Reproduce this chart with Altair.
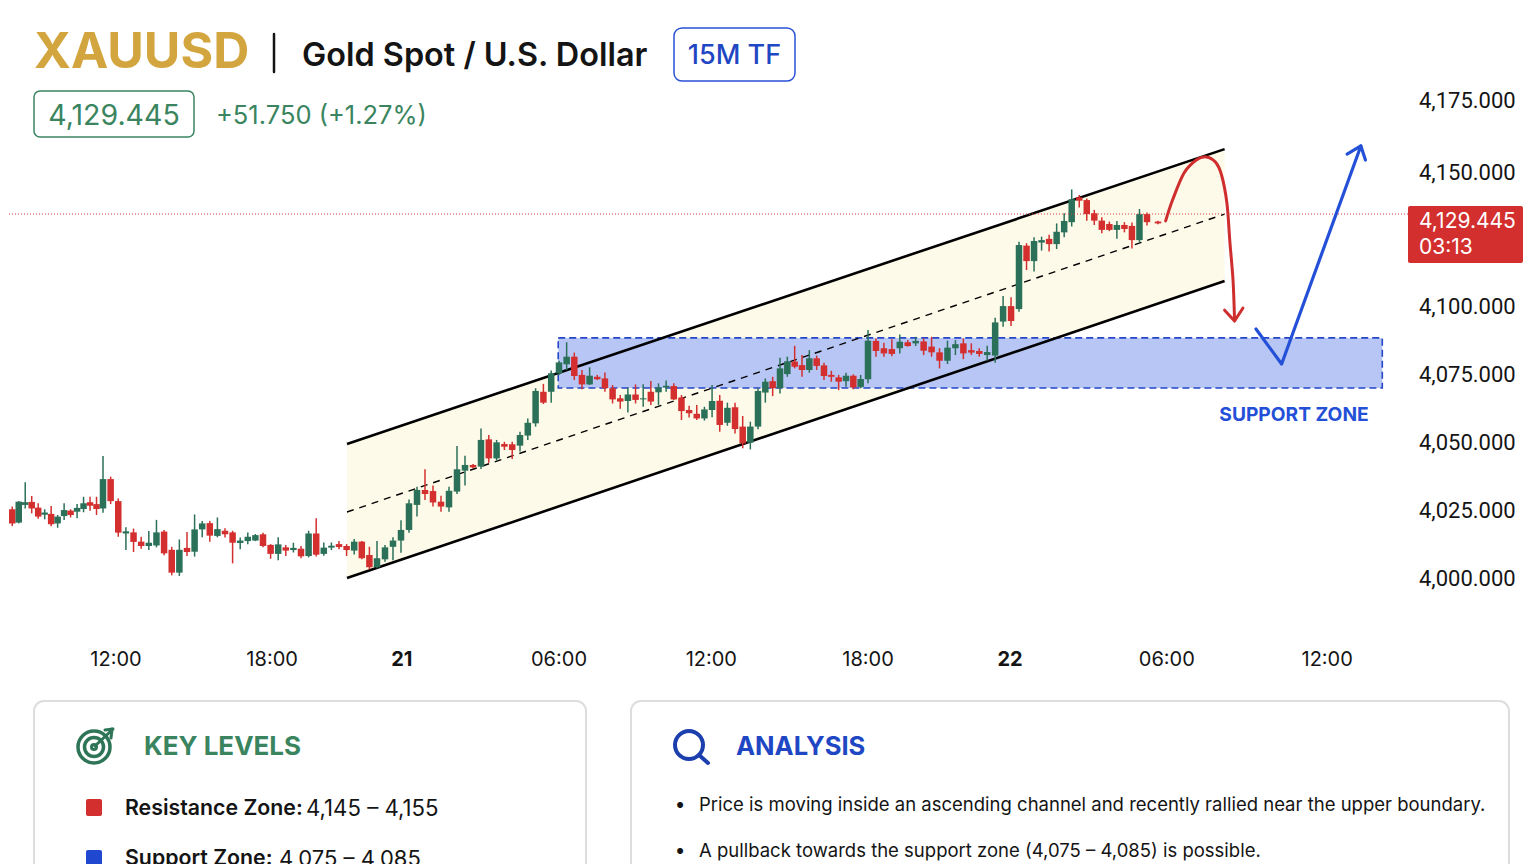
import altair as alt
import pandas as pd

FONT = "Inter"
GREEN = "#2B7058"
RED = "#D32F2F"
BLUE = "#2A52D6"
TXT_GREEN = "#3A8560"
GOLD = "#D3A53F"
INK = "#141414"

opens = [4024.9,4020.0,4026.5,4027.6,4025.5,4022.9,4023.2,4019.7,4022.4,4024.4,
 4024.0,4025.0,4027.5,4026.8,4025.2,4036.0,4027.9,4016.0,4016.4,4013.0,
 4011.4,4011.6,4016.7,4010.0,4001.6,4010.7,4009.3,4017.5,4019.8,4015.1,
 4017.0,4016.4,4012.5,4013.2,4013.4,4015.7,4011.8,4008.5,4010.9,4009.9,
 4010.4,4007.7,4016.0,4008.5,4010.8,4012.1,4011.4,4009.7,4013.0,4008.1,
 4003.6,4006.5,4011.1,4013.4,4017.3,4026.5,4032.0,4031.6,4027.7,4025.6,
 4031.4,4039.1,4041.2,4040.6,4050.6,4043.6,4048.9,4048.8,4048.3,4052.0,
 4056.5,4068.1,4068.1,4074.9,4078.2,4081.0,4074.3,4070.8,4073.6,4073.0,
 4069.4,4065.7,4064.7,4067.1,4065.3,4068.1,4067.9,4069.7,4070.2,4066.0,
 4061.4,4060.0,4058.3,4061.4,4064.8,4056.7,4062.4,4055.3,4049.4,4055.3,
 4067.8,4072.0,4069.4,4074.6,4079.2,4077.9,4076.1,4080.4,4077.8,4074.3,
 4073.4,4072.0,4074.0,4069.9,4072.7,4086.8,4084.1,4083.8,4084.1,4086.3,
 4085.9,4086.6,4084.7,4082.6,4079.5,4084.1,4085.9,4083.4,4083.1,4081.6,
 4081.4,4093.9,4099.6,4098.5,4119.2,4114.2,4120.2,4121.4,4119.7,4123.5,
 4126.8,4137.4,4136.1,4129.8,4127.3,4126.2,4124.3,4125.9,4125.6,4121.0,4129.4,4127.0]
highs = [4025.9,4027.9,4034.8,4029.8,4027.1,4024.9,4026.1,4022.8,4027.1,4024.9,
 4026.8,4029.5,4029.5,4029.5,4044.5,4036.9,4028.9,4018.3,4017.8,4014.8,
 4016.9,4021.0,4017.3,4011.1,4013.8,4016.5,4023.0,4020.6,4020.6,4021.9,
 4017.9,4017.0,4014.5,4016.4,4015.8,4016.3,4012.1,4014.6,4011.8,4012.6,
 4011.4,4017.0,4021.6,4012.7,4012.7,4013.2,4012.1,4014.0,4013.2,4011.1,
 4013.2,4011.8,4014.6,4020.9,4028.5,4033.2,4039.6,4033.6,4029.9,4033.2,
 4048.2,4044.6,4041.5,4054.6,4052.2,4050.4,4049.7,4049.7,4053.4,4058.3,
 4069.4,4071.0,4075.9,4079.5,4086.3,4082.5,4076.1,4077.1,4074.3,4075.2,
 4070.6,4066.9,4069.7,4070.8,4070.9,4072.1,4071.2,4072.2,4071.2,4066.9,
 4063.0,4063.2,4062.6,4070.6,4066.9,4064.1,4064.1,4059.2,4057.1,4069.4,
 4073.0,4073.6,4080.6,4081.0,4085.0,4081.6,4083.4,4081.4,4078.8,4075.8,
 4074.3,4075.1,4074.5,4074.3,4090.8,4087.7,4086.1,4087.4,4089.2,4087.1,
 4088.3,4087.7,4088.3,4084.1,4086.9,4087.1,4087.7,4085.9,4084.1,4085.0,
 4095.3,4102.9,4102.5,4120.5,4120.0,4121.9,4122.1,4122.7,4126.4,4129.8,
 4141.2,4138.5,4136.9,4131.4,4128.4,4127.0,4127.2,4126.8,4126.7,4131.8,4130.2,4127.3]
lows = [4018.7,4019.7,4025.2,4023.4,4021.4,4021.2,4018.7,4018.1,4021.0,4021.9,
 4021.6,4023.8,4024.4,4022.8,4023.6,4026.8,4014.8,4009.9,4009.2,4010.4,
 4009.9,4010.9,4008.0,4000.6,4000.4,4007.7,4007.5,4014.6,4013.0,4014.6,
 4014.5,4005.0,4010.2,4012.0,4013.2,4010.9,4006.7,4006.2,4007.7,4009.0,
 4006.9,4007.2,4007.5,4007.8,4009.9,4010.2,4007.7,4008.3,4006.5,4002.8,
 4003.2,4005.6,4006.2,4008.9,4016.3,4022.2,4028.3,4025.9,4024.0,4024.0,
 4030.5,4033.6,4039.9,4039.7,4042.0,4042.8,4046.7,4043.4,4046.1,4050.4,
 4055.3,4063.6,4064.1,4074.3,4076.1,4072.4,4069.0,4070.6,4072.4,4068.1,
 4063.8,4061.9,4060.5,4063.8,4062.6,4063.2,4063.2,4068.1,4065.1,4057.7,
 4058.6,4057.7,4057.5,4058.7,4053.4,4055.6,4052.8,4047.3,4046.9,4054.3,
 4064.1,4066.5,4067.5,4073.6,4076.7,4073.6,4075.1,4076.1,4072.4,4071.8,
 4068.7,4069.9,4069.0,4069.4,4071.2,4081.0,4081.0,4081.2,4082.2,4084.7,
 4084.9,4081.6,4081.0,4076.7,4078.3,4081.6,4080.1,4081.6,4081.0,4079.5,
 4078.8,4092.0,4092.3,4097.5,4111.3,4110.8,4117.6,4117.3,4118.1,4121.9,
 4125.4,4132.5,4127.3,4125.9,4123.2,4123.9,4121.4,4123.5,4118.3,4120.4,4125.7,4126.1]
closes = [4019.7,4027.7,4027.5,4025.2,4022.2,4023.7,4019.4,4022.2,4024.6,4022.8,
 4025.4,4027.1,4026.2,4025.0,4036.0,4027.9,4016.3,4016.8,4012.9,4011.4,
 4012.6,4016.4,4008.7,4001.6,4010.0,4009.2,4017.5,4019.7,4015.2,4017.6,
 4015.7,4012.6,4013.4,4014.8,4015.4,4011.4,4008.5,4012.0,4009.7,4010.7,
 4007.6,4016.0,4008.2,4010.8,4011.5,4011.0,4009.9,4013.0,4006.9,4003.6,
 4006.9,4010.9,4013.4,4017.3,4027.1,4032.0,4030.5,4027.4,4025.9,4031.7,
 4039.6,4041.2,4040.3,4050.4,4043.6,4049.5,4047.9,4046.7,4052.2,4056.7,
 4068.4,4064.1,4074.9,4078.9,4081.0,4073.9,4070.8,4074.0,4072.7,4069.4,
 4065.3,4064.5,4067.1,4065.1,4065.7,4064.5,4069.7,4070.3,4065.3,4061.0,
 4060.2,4058.3,4061.6,4064.7,4055.9,4062.2,4054.4,4049.1,4055.3,4068.4,
 4071.8,4069.4,4076.7,4079.3,4077.3,4076.1,4080.4,4077.6,4073.9,4073.6,
 4071.8,4074.0,4069.7,4072.8,4086.9,4083.1,4082.2,4082.0,4086.5,4084.9,
 4086.8,4083.2,4082.6,4079.5,4084.3,4085.6,4082.2,4082.5,4082.0,4082.7,
 4093.6,4099.6,4094.1,4119.4,4114.2,4120.7,4121.0,4119.7,4123.7,4127.2,
 4136.5,4135.8,4129.4,4127.3,4124.3,4124.3,4125.9,4124.6,4121.0,4129.4,4126.8,4126.4]

# x axis: bar number with the session labels it carries
tick_at = [15.7, 36.2, 73, 92.9, 114, 152.15, 173.1]
tick_text = ["12:00", "18:00", "06:00", "12:00", "18:00", "06:00", "12:00"]
day_at = [53.1, 131.87]
day_text = ["21", "22"]
price_ticks = [4000, 4025, 4050, 4075, 4100, 4150, 4175]
last_price = 4129.445

# overlays, in bar number and price
channel_x = [46.05, 159.7]
channel_upper = [4048.9, 4157.6]
channel_lower = [3999.6, 4107.8]
channel_mid = [4023.9, 4129.4]
zone_x = [72.9, 180.3]
zone_y = [4069.5, 4087.9]
red_x = [152.0, 152.9, 154.4, 156.0, 157.3, 158.5, 159.3, 160.0, 160.4, 160.8, 161.0]
red_y = [4127.2, 4136.1, 4149.0, 4153.8, 4154.9, 4153.1, 4148.1, 4134.7, 4120.1, 4108.1, 4094.5]
red_head_x = [159.7, 161.0, 162.1]
red_head_y = [4098.1, 4094.1, 4098.9]
blue_x = [163.8, 167.15, 177.5]
blue_y = [4091.2, 4078.3, 4158.7]
blue_head_x = [175.7, 177.5, 178.1]
blue_head_y = [4155.9, 4158.7, 4153.8]

xscale = alt.Scale(domain=[0, 14, 25, 50, 63, 73, 99, 114, 133, 150, 151, 183],
                   range=[0, 95, 179, 369, 473, 551, 750, 860, 1011, 1139, 1150, 1400])
yscale = alt.Scale(domain=[4000, 4025, 4050, 4075, 4100, last_price, 4150, 4175],
                   range=[569, 501, 433, 365, 297, 206, 163, 91])

X = alt.X("x:Q", scale=xscale, axis=None)
Y = alt.Y("y:Q", scale=yscale, axis=None)

df = pd.DataFrame({"i": range(len(opens)), "open": opens, "high": highs, "low": lows, "close": closes})
updown = alt.condition("datum.close >= datum.open", alt.value(GREEN), alt.value(RED))

wicks = alt.Chart(df).mark_rule(strokeWidth=1.5).encode(
    x=alt.X("i:Q", scale=xscale, axis=None),
    y=alt.Y("low:Q", scale=yscale, axis=None),
    y2="high:Q", color=updown)
bodies = alt.Chart(df).mark_bar(size=6.5).encode(
    x=alt.X("i:Q", scale=xscale, axis=None),
    y=alt.Y("open:Q", scale=yscale, axis=None),
    y2="close:Q", color=updown)

ch = pd.DataFrame({"x": channel_x, "u": channel_upper, "l": channel_lower, "m": channel_mid})
channel_fill = alt.Chart(ch).mark_area(color="#FEFAE9").encode(
    x=X, y=alt.Y("l:Q", scale=yscale, axis=None), y2="u:Q")
def chline(field, **kw):
    return alt.Chart(ch).mark_line(color="#000000", **kw).encode(
        x=X, y=alt.Y(f"{field}:Q", scale=yscale, axis=None))
ch_up = chline("u", strokeWidth=2.6)
ch_lo = chline("l", strokeWidth=2.6)
ch_mid = chline("m", strokeWidth=1.4, strokeDash=[7, 6])

zone = alt.Chart(pd.DataFrame({"x": [zone_x[0]], "x2": [zone_x[1]], "y": [zone_y[0]], "y2": [zone_y[1]]})).mark_rect(
    fill="#B7C6F4", stroke="#2447C8", strokeWidth=1.6, strokeDash=[7, 4]).encode(
    x=X, x2="x2:Q", y=Y, y2="y2:Q")

price_line = alt.Chart(pd.DataFrame({"p": [last_price]})).mark_rule(
    color="#DA3A44", strokeWidth=1, strokeDash=[1, 2]).encode(
    y=alt.Y("p:Q", scale=yscale, axis=None))

def path(xs, ys, color, width=3, interp="linear"):
    d = pd.DataFrame({"x": xs, "y": ys, "o": range(len(xs))})
    return alt.Chart(d).mark_line(color=color, strokeWidth=width, interpolate=interp,
                                  strokeCap="round", strokeJoin="round").encode(x=X, y=Y, order="o:Q")

red_arrow = path(red_x, red_y, "#CF2E2E", 3, "cardinal")
red_head = path(red_head_x, red_head_y, "#CF2E2E", 3)
blue_arrow = path(blue_x, blue_y, "#2450D8", 3.2)
blue_head = path(blue_head_x, blue_head_y, "#2450D8", 3.2)

# page furniture: helper positions are given in page pixels
def P(v):
    return alt.value(v - 8)
def text(x, y, s, size, color=INK, weight="normal", align="left"):
    return alt.Chart(pd.DataFrame({"t": [s]})).mark_text(
        font=FONT, fontSize=size, fontWeight=weight, color=color, align=align, baseline="middle"
    ).encode(x=P(x), y=P(y), text="t:N")
def box(x0, y0, x1, y1, stroke=None, fill="#FFFFFF", radius=6, width=1.5):
    kw = {"stroke": stroke, "strokeWidth": width} if stroke else {}
    return alt.Chart(pd.DataFrame({"a": [0]})).mark_rect(fill=fill, cornerRadius=radius, **kw).encode(
        x=P(x0), x2=P(x1), y=P(y0), y2=P(y1))
def seg(x0, y0, x1, y1, color, width=2.5):
    return alt.Chart(pd.DataFrame({"a": [0]})).mark_rule(color=color, strokeWidth=width, strokeCap="round").encode(
        x=P(x0), x2=P(x1), y=P(y0), y2=P(y1))
def ring(x, y, d, color, width=3):
    return alt.Chart(pd.DataFrame({"a": [0]})).mark_point(shape="circle", filled=False, color=color, opacity=1, strokeWidth=width, size=d * d).encode(
        x=P(x), y=P(y))

# axis labels, placed through the chart's own scales
def xticks(at, labels, weight):
    return alt.Chart(pd.DataFrame({"x": at, "t": labels})).mark_text(
        font=FONT, fontSize=20, fontWeight=weight, color=INK, align="center", baseline="middle"
    ).encode(x=X, y=P(660), text="t:N")
x_labels = xticks(tick_at, tick_text, "normal")
day_labels = xticks(day_at, day_text, "bold")
y_labels = alt.Chart(pd.DataFrame({"y": price_ticks})).mark_text(
    font="Roboto", fontSize=22, color=INK, align="left", baseline="middle", dy=2
).encode(x=P(1419), y=Y, text=alt.Text("y:Q", format=",.3f"))

furniture = [
    text(34, 53, "XAUUSD", 50, GOLD, "bold"),
    seg(274, 34, 274, 72, INK, 2.5),
    text(302, 56, "Gold Spot / U.S. Dollar", 32.4, INK, 600),
    box(674, 28, 795, 81, BLUE, radius=8),
    text(734.5, 56, "15M TF", 27, "#1F47C4", 500, "center"),
    box(34, 91, 194, 137, TXT_GREEN, radius=6),
    text(114, 116, "4,129.445", 28.5, TXT_GREEN, "normal", "center"),
    text(216, 116, "+51.750 (+1.27%)", 25.5, TXT_GREEN),
    text(1294, 415, "SUPPORT ZONE", 19.2, "#2450D8", "bold", "center"),
    box(1408, 206, 1523, 263, fill=RED, radius=2),
    text(1419, 222, "4,129.445", 21, "#FFFFFF"),
    text(1419, 248, "03:13", 21, "#FFFFFF"),
    box(34, 701, 586, 900, "#DDDDDD", radius=10, width=2),
    box(631, 701, 1509, 900, "#DDDDDD", radius=10, width=2),
    ring(94, 747, 32, "#2E7557", 3.5),
    ring(94, 747, 19, "#2E7557", 3.5),
    ring(94, 747, 5, "#2E7557", 3),
    seg(95, 746, 112, 730, "#2E7557", 3),
    seg(105, 730, 113, 729, "#2E7557", 3),
    seg(112, 729, 111, 738, "#2E7557", 3),
    text(144, 747, "KEY LEVELS", 26, TXT_GREEN, "bold"),
    ring(689, 745, 28, "#1C3FAE", 4),
    seg(699, 755, 708, 763, "#1C3FAE", 4),
    text(736, 747, "ANALYSIS", 25.6, "#1F47C4", "bold"),
    box(86, 799, 102, 816, fill=RED, radius=2),
    text(125, 809, "Resistance Zone:", 21.3, INK, 600),
    text(306, 809, "4,145 – 4,155", 22.2, INK),
    box(86, 850, 102, 867, fill="#1F47D0", radius=2),
    text(125, 859, "Support Zone:", 21.3, INK, 600),
    text(279, 859, "4,075 – 4,085", 22, INK),
    text(680, 805, "•", 19, INK, "normal", "center"),
    text(699, 805, "Price is moving inside an ascending channel and recently rallied near the upper boundary.", 18.5, INK),
    text(680, 851, "•", 19, INK, "normal", "center"),
    text(699, 851, "A pullback towards the support zone (4,075 – 4,085) is possible.", 18.5, INK),
]

chart = alt.layer(
    channel_fill, zone, ch_mid, ch_up, ch_lo, wicks, bodies, price_line,
    red_arrow, red_head, blue_arrow, blue_head, x_labels, day_labels, y_labels, *furniture
).properties(
    width=1400, height=640,
    autosize=alt.AutoSizeParams(type="none"),
    padding={"left": 0, "top": 0, "right": 120, "bottom": 216},
    background="#FFFFFF",
).configure_view(strokeWidth=0)

chart.save("out.html", embed_options={"renderer": "svg", "actions": False})
